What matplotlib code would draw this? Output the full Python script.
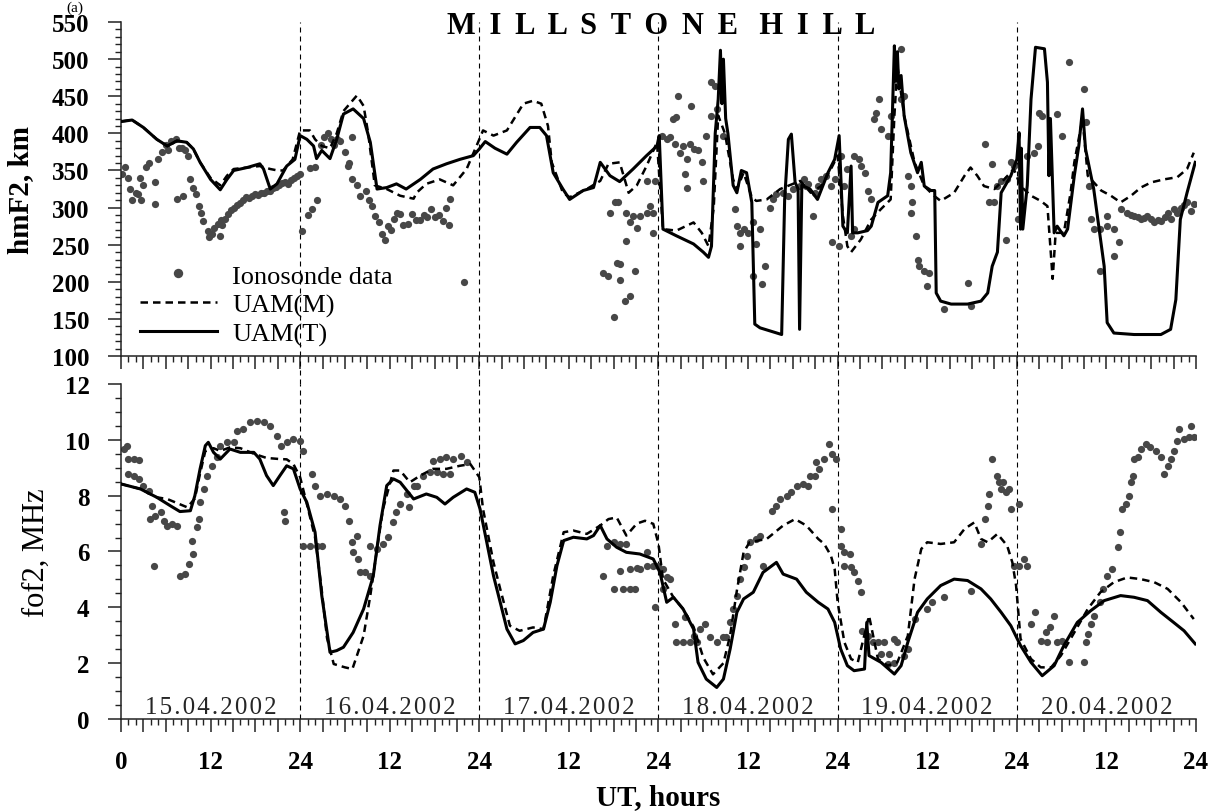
import numpy as np
import matplotlib
matplotlib.use("Agg")
import matplotlib.pyplot as plt
from matplotlib.ticker import MultipleLocator, FuncFormatter

plt.rcParams['font.family'] = ['Liberation Serif', 'DejaVu Serif']

# ---- data (UT hours from 00 UT 15.04.2002) ----
day_labels = ['15.04.2002', '16.04.2002', '17.04.2002',
              '18.04.2002', '19.04.2002', '20.04.2002']
day_bounds = [24, 48, 72, 96, 120]

# hmF2, UAM(T) model
hm_uam_t = [
    (0, 416), (1.5, 418), (3, 408), (4.8, 392), (6.2, 383), (7.5, 390), (8.8, 388),
    (9.7, 379), (10.6, 361), (12, 338), (13.3, 324), (14.2, 338), (15.1, 350),
    (16.9, 354), (18.6, 359), (19.1, 352), (20, 325), (20.9, 332), (22.2, 356),
    (23.3, 365), (24, 397), (24.9, 392), (25.8, 383), (26.2, 366), (26.9, 377),
    (28, 366), (28.9, 392), (29.8, 426), (31.1, 433), (32.5, 420), (33.4, 388),
    (34.3, 325), (35.6, 327), (36.9, 332), (38.2, 325), (40.1, 338), (41.8, 352),
    (43.6, 359), (45.4, 365), (47.2, 370), (48, 379), (48.8, 389), (50.1, 380),
    (51.7, 372), (53, 388), (54.8, 408), (56.1, 408), (57, 397), (57.9, 347),
    (59.2, 325), (60.1, 311), (61.9, 323), (63.3, 327), (64.2, 361), (65.5, 343),
    (66.8, 335), (68.6, 352), (70.4, 370), (71.8, 383), (72.1, 397), (72.6, 271),
    (74.4, 262), (76.7, 251), (78, 240), (78.7, 233), (79.1, 248), (79.6, 400),
    (80, 446), (80.3, 512), (80.5, 440), (80.7, 500), (81, 420), (81.3, 400),
    (82, 330), (82.5, 320), (83.1, 350), (83.8, 347), (84.5, 307), (84.9, 143),
    (85.6, 138), (86.9, 134), (88.5, 129), (88.9, 311), (89.4, 392), (89.8, 399),
    (90.3, 334), (90.7, 325), (90.9, 136), (91.2, 330), (92.3, 325), (93.3, 311),
    (94.7, 347), (95.6, 365), (96.2, 397), (96.7, 275), (97.3, 266), (97.8, 356),
    (98, 266), (98.7, 266), (100, 269), (100.5, 275), (101.4, 307), (102.7, 316),
    (103.1, 347), (103.6, 518), (103.8, 470), (104, 510), (104.2, 460), (104.5, 478),
    (104.9, 424), (105.8, 374), (106.7, 347), (107.2, 361), (107.6, 329), (108.5, 323),
    (109, 323), (109.2, 185), (109.8, 174), (111.2, 170), (113.4, 170), (115.2, 174),
    (116.1, 185), (116.7, 221), (117.4, 240), (117.9, 320), (119.2, 343), (120, 365),
    (120.3, 401), (120.5, 271), (120.6, 380), (120.8, 271), (121.4, 330), (121.9, 446),
    (122.5, 516), (123.7, 514), (124.1, 469), (124.3, 343), (124.5, 420), (125, 266),
    (125.4, 275), (126.3, 262), (126.8, 271), (127.7, 343), (128.3, 383), (128.8, 433),
    (129.2, 379), (130.3, 325), (131.7, 221), (132.1, 145), (133, 131), (135.7, 129),
    (139.3, 129), (140.6, 136), (141.3, 176), (141.9, 284), (142.8, 320), (143.9, 361),
]

# hmF2, UAM(M) model
hm_uam_m = [
    (0, 416), (1.5, 418), (3, 408), (4.8, 392), (6.2, 383), (7.5, 390), (8.8, 388),
    (9.7, 379), (10.6, 361), (12, 340), (13.3, 330), (14.2, 343), (15.1, 352),
    (16.9, 354), (18.6, 356), (20, 352), (21, 350), (21.7, 350), (23, 365), (24, 404),
    (25.3, 404), (26, 392), (26.9, 383), (28, 380), (28.9, 400), (29.8, 430),
    (31.6, 451), (32.5, 437), (33.1, 401), (34, 330), (35.6, 325), (37.4, 316),
    (39.2, 312), (39.6, 320), (40.9, 332), (42.7, 338), (44.5, 330), (46.3, 352),
    (48, 392), (48.5, 404), (49.9, 397), (51.7, 404), (53.9, 440), (55.2, 444),
    (56.3, 440), (57.2, 410), (57.7, 361), (59.2, 320), (60.1, 314), (62.4, 325),
    (64.2, 336), (65.3, 359), (66.8, 361), (68, 320), (69.1, 330), (70.4, 356),
    (71.8, 388), (72.6, 271), (74.4, 269), (76.7, 280), (77.8, 266), (78.7, 248),
    (79.4, 300), (80, 424), (80.9, 400), (82, 338), (82.5, 325), (83.4, 347),
    (84.5, 314), (85.1, 309), (86.5, 311), (88.3, 325), (91, 336), (92.4, 320),
    (93.8, 329), (95.1, 352), (96, 370), (96.7, 289), (97.3, 248), (97.8, 240),
    (99.1, 257), (100.5, 284), (101.8, 298), (103.1, 311), (103.6, 424), (104, 491),
    (104.9, 424), (106.3, 361), (107.6, 329), (108.9, 316), (109.8, 309), (111.6, 320),
    (113, 343), (113.8, 354), (114.7, 343), (115.6, 329), (117, 325), (118.3, 338),
    (119.6, 352), (120.5, 329), (121.9, 316), (123.2, 309), (124.1, 302), (124.8, 204),
    (125.2, 266), (126.3, 266), (127.2, 320), (127.7, 361), (128.8, 420), (129.5, 343),
    (131.3, 323), (132.6, 316), (133.9, 307), (135.3, 316), (136.6, 327), (138, 334),
    (139.7, 338), (141.5, 341), (142.8, 352), (143.7, 374),
]

# hmF2, ionosonde
hm_iono = [
    (0.2, 345), (0.5, 355), (1.0, 340), (1.2, 325), (1.5, 310), (2.0, 320), (2.3, 318),
    (2.5, 340), (2.7, 310), (3.0, 330), (3.4, 355), (3.8, 360), (4.5, 335), (4.5, 305),
    (5.0, 365), (5.5, 375), (6.0, 385), (6.3, 378), (6.7, 390), (7.4, 392), (7.5, 312),
    (7.8, 380), (8.2, 380), (8.3, 316), (8.6, 378), (9.0, 370), (9.2, 338), (9.6, 326),
    (10.0, 318), (10.4, 302), (10.7, 293), (11.0, 282), (11.6, 268), (11.8, 260),
    (12.2, 265), (12.5, 272), (13.0, 278), (13.2, 262), (13.4, 283), (13.6, 277),
    (14.0, 285), (14.4, 292), (14.8, 297), (15.2, 300), (15.6, 303), (16.0, 306),
    (16.4, 310), (16.8, 314), (17.2, 313), (17.6, 315), (18.0, 318), (18.4, 317),
    (18.8, 320), (19.2, 320), (19.6, 323), (20.0, 322), (20.4, 326), (20.8, 328),
    (21.2, 330), (21.6, 333), (22.0, 335), (22.4, 332), (22.8, 337), (23.2, 340),
    (23.6, 342), (24.0, 345),
    (24.3, 268), (25.0, 290), (25.3, 353), (25.6, 298), (26.0, 355), (26.3, 310),
    (26.8, 385), (27.2, 395), (27.7, 400), (28.2, 392), (28.6, 385), (29.0, 392),
    (29.4, 390), (30.0, 375), (30.4, 356), (30.5, 360), (31.0, 395), (31.0, 338),
    (31.6, 330), (32.0, 316), (32.8, 322), (33.2, 310), (33.6, 302), (34.0, 289),
    (34.6, 280), (35.0, 264), (35.4, 257), (35.8, 275), (36.2, 270), (36.6, 285),
    (37.0, 293), (37.4, 292), (37.8, 276), (38.4, 278), (39.0, 291), (39.5, 283),
    (40.0, 283), (40.6, 290), (41.0, 287), (41.5, 298), (42.0, 288), (42.6, 290),
    (43.2, 282), (43.6, 300), (44.0, 276), (44.1, 311), (45.9, 200),
    (64.6, 212), (65.3, 208), (65.5, 293), (66.0, 152), (66.2, 307), (66.4, 226),
    (66.6, 307), (66.8, 224), (66.8, 203), (67.5, 174), (67.7, 293), (67.7, 255),
    (68.2, 280), (68.2, 181), (68.6, 289), (68.8, 215), (69.1, 273), (69.5, 289),
    (70.4, 293), (70.4, 336), (70.9, 302), (71.3, 293), (71.3, 266), (71.5, 336),
    (72.5, 397), (73.1, 392), (73.5, 395), (74.0, 420), (74.2, 386), (74.4, 422),
    (74.6, 451), (74.9, 374), (75.3, 383), (75.6, 345), (75.8, 365), (75.8, 327),
    (76.2, 386), (76.4, 437), (76.7, 379), (77.3, 377), (77.8, 361), (78.0, 336),
    (78.4, 397), (79.1, 469), (79.1, 424), (79.6, 464), (79.8, 433), (80.7, 397),
    (82.2, 298), (82.5, 275), (82.9, 266), (82.9, 248), (83.4, 271), (84.0, 266),
    (84.7, 280), (84.7, 208), (85.1, 251), (85.6, 271), (85.8, 197), (86.3, 221),
    (86.9, 300), (87.4, 311), (87.8, 318), (88.7, 320), (89.4, 316), (90.0, 325),
    (90.9, 329), (91.5, 338), (91.8, 329), (92.0, 332), (92.7, 289), (92.9, 320),
    (93.4, 329), (93.8, 338), (94.4, 343), (95.1, 329), (95.3, 253), (95.6, 338),
    (96.2, 248), (96.4, 370), (96.9, 329), (97.3, 352), (97.8, 262), (98.2, 370),
    (98.2, 271), (98.9, 365), (99.1, 356), (99.6, 347), (100.0, 323), (100.5, 311),
    (100.9, 420), (101.1, 428), (101.6, 446), (101.8, 406), (102.7, 397), (103.1, 424),
    (104.5, 514), (104.5, 446), (104.9, 451), (105.4, 343), (105.8, 329), (105.8, 293),
    (106.0, 307), (106.5, 262), (106.7, 230), (106.9, 221), (107.6, 215), (108.0, 194),
    (108.3, 212), (110.3, 163), (113.4, 199), (113.8, 168), (115.8, 386), (116.3, 307),
    (116.7, 359), (116.9, 307), (117.4, 329), (117.9, 336), (118.5, 257), (118.7, 338),
    (119.2, 361), (119.6, 356),
    (120.1, 284), (121.4, 370), (122.3, 374), (122.8, 383), (123.0, 428), (123.4, 424),
    (125.4, 426), (126.1, 397), (127.0, 496), (129.0, 460), (129.2, 415), (129.7, 329),
    (129.9, 284), (130.3, 271), (131.2, 271), (131.2, 215), (132.1, 275), (132.1, 289),
    (133.0, 271), (133.0, 235), (133.7, 253), (134.0, 298), (134.8, 293), (135.3, 290),
    (135.7, 289), (136.2, 287), (136.6, 284), (137.0, 286), (137.5, 289), (138.0, 284),
    (138.4, 280), (138.9, 283), (139.3, 282), (139.8, 287), (140.2, 293), (140.6, 284),
    (141.1, 298), (141.5, 293), (142.0, 300), (142.4, 303), (142.8, 307), (143.3, 296),
    (143.7, 305),
]

# foF2, UAM(T) model
fo_uam_t = [
    (0, 8.42), (2.6, 8.24), (4.8, 7.94), (6.6, 7.64), (7.9, 7.43), (9.3, 7.46), (9.9, 8.0),
    (10.6, 8.96), (11.3, 9.79), (11.7, 9.91), (12.4, 9.55), (13.3, 9.31), (14.6, 9.67),
    (16.0, 9.55), (17.8, 9.55), (18.6, 9.31), (19.5, 8.72), (20.4, 8.36), (21.3, 8.72),
    (22.2, 9.07), (23.1, 8.96), (24.0, 8.24), (24.9, 7.76), (26.0, 6.69), (26.9, 4.42),
    (28.0, 2.39), (28.9, 2.45), (29.8, 2.57), (31.1, 3.10), (32.5, 3.94), (33.8, 5.13),
    (34.7, 6.93), (35.6, 8.36), (36.5, 8.6), (37.4, 8.48), (38.3, 8.18), (39.2, 7.88),
    (40.9, 8.06), (42.3, 7.94), (43.4, 7.7), (44.5, 7.94), (46.3, 8.24), (47.4, 8.12),
    (48.1, 7.52), (49.0, 6.33), (49.9, 5.13), (50.8, 4.18), (51.7, 3.22), (52.8, 2.69),
    (53.9, 2.81), (55.2, 3.1), (56.6, 3.22), (57.5, 4.18), (58.4, 5.49), (59.3, 6.39),
    (60.6, 6.51), (62.4, 6.45), (63.3, 6.57), (64.2, 6.93), (65.1, 6.45), (66.4, 6.15),
    (67.7, 5.97), (69.5, 5.91), (71.3, 5.73), (72.2, 5.25), (73.1, 4.18), (74.0, 4.36),
    (75.3, 3.94), (76.7, 3.22), (77.3, 2.03), (78.4, 1.43), (79.8, 1.13), (80.7, 1.43),
    (81.6, 2.51), (82.5, 3.82), (83.4, 4.3), (84.7, 4.54), (86.0, 5.25), (87.8, 5.61),
    (88.7, 5.19), (90.5, 5.01), (91.8, 4.54), (93.4, 4.18), (94.7, 3.94), (95.6, 3.46),
    (96.4, 2.51), (97.3, 1.91), (98.2, 1.73), (99.6, 1.79), (99.9, 3.46), (100.2, 2.27),
    (101.8, 2.03), (103.6, 1.61), (104.5, 1.91), (105.4, 2.75), (106.7, 3.82), (108.0, 4.3),
    (109.8, 4.78), (111.6, 5.01), (113.4, 4.96), (115.2, 4.66), (116.5, 4.3), (117.9, 3.82),
    (119.2, 3.34), (120.5, 2.63), (121.9, 2.03), (123.4, 1.55), (125.0, 1.91), (126.3, 2.63),
    (128.1, 3.46), (129.9, 3.88), (131.7, 4.24), (133.9, 4.42), (135.7, 4.36), (137.5, 4.24),
    (139.3, 3.82), (141.0, 3.46), (142.4, 3.16), (143.9, 2.69),
]

# foF2, UAM(M) model
fo_uam_m = [
    (0, 8.42), (2.6, 8.24), (4.8, 7.94), (6.2, 7.88), (8.9, 7.58), (9.9, 7.9), (10.6, 8.8),
    (11.3, 9.6), (12.4, 9.7), (13.3, 9.6), (14.6, 9.73), (16.0, 9.7), (17.8, 9.5),
    (19.5, 9.35), (21.3, 9.31), (22.2, 9.3), (23.1, 9.13), (24.0, 8.66), (24.9, 7.7),
    (26.0, 6.5), (26.9, 4.6), (27.6, 2.9), (28.5, 1.97), (30.0, 1.85), (31.0, 1.79),
    (32.5, 2.98), (33.4, 4.42), (34.3, 6.09), (35.1, 7.52), (36.5, 8.9), (37.4, 8.9),
    (38.7, 8.48), (40.1, 8.72), (41.8, 8.96), (43.6, 8.96), (45.4, 9.07), (46.8, 9.13),
    (48.0, 8.66), (48.5, 7.52), (49.9, 5.61), (50.8, 4.66), (52.1, 3.34), (53.4, 3.16),
    (55.2, 3.28), (56.6, 3.22), (57.9, 5.13), (59.3, 6.69), (60.6, 6.75), (62.4, 6.63),
    (64.2, 6.93), (65.3, 7.16), (66.4, 7.22), (67.7, 6.57), (69.1, 7.0), (70.2, 7.1),
    (71.3, 6.99), (72.0, 6.27), (72.6, 5.01), (74.0, 4.36), (75.3, 3.94), (76.7, 3.3),
    (78.0, 2.2), (79.3, 1.6), (80.7, 2.0), (81.6, 3.0), (82.5, 4.6), (83.4, 5.97),
    (84.2, 6.33), (86.5, 6.45), (88.7, 6.93), (90.3, 7.16), (91.8, 6.93), (93.4, 6.45),
    (94.2, 6.27), (95.1, 5.85), (95.6, 5.37), (96.0, 4.18), (96.9, 2.75), (97.8, 2.15),
    (98.7, 2.03), (100.2, 3.7), (101.4, 2.15), (102.7, 1.91), (104.0, 2.03), (105.4, 2.98),
    (106.3, 5.01), (107.2, 6.09), (108.0, 6.33), (109.8, 6.27), (111.6, 6.33), (113.0, 6.81),
    (114.3, 7.04), (115.2, 6.45), (116.1, 6.33), (117.4, 6.63), (118.7, 6.21), (119.4, 5.61),
    (119.9, 4.78), (120.5, 2.87), (121.9, 2.15), (123.2, 1.85), (124.6, 1.85), (125.9, 2.27),
    (127.7, 3.1), (129.5, 3.94), (131.2, 4.54), (133.0, 4.9), (134.8, 5.07), (136.6, 5.01),
    (138.4, 4.9), (140.2, 4.66), (142.0, 4.18), (143.7, 3.58),
]

# foF2, ionosonde
fo_iono = [
    (0.4, 9.67), (0.8, 9.79), (1.0, 9.31), (1.0, 8.78), (1.7, 9.31), (1.7, 8.72), (2.4, 9.29),
    (2.4, 8.6), (3.0, 8.36), (3.7, 8.18), (3.9, 7.16), (4.1, 7.64), (4.4, 5.49), (4.6, 7.28),
    (5.3, 7.4), (5.7, 7.1), (6.2, 6.93), (6.8, 6.99), (7.5, 6.93), (7.9, 5.13), (8.6, 5.19),
    (9.1, 5.55), (9.5, 6.39), (9.7, 5.91), (10.2, 6.87), (10.4, 7.16), (10.6, 7.76),
    (11.1, 8.24), (11.5, 8.72), (12.2, 9.07), (12.8, 9.37), (13.3, 9.79), (14.2, 9.91),
    (15.1, 9.91), (15.5, 10.33), (16.4, 10.39), (17.3, 10.63), (18.2, 10.69), (19.1, 10.63),
    (20.0, 10.51), (20.9, 10.15), (21.5, 9.79), (21.8, 7.4), (22.0, 7.1), (22.2, 9.91),
    (23.1, 10.03), (24.0, 9.97), (24.4, 9.61),
    (24.4, 6.21), (25.3, 6.21), (25.6, 8.78), (26.0, 8.36), (26.2, 6.21), (26.7, 8.0),
    (26.9, 6.21), (27.6, 8.06), (28.5, 8.0), (29.3, 7.88), (30.0, 7.64), (30.5, 7.1),
    (30.9, 6.33), (31.1, 5.97), (31.6, 6.57), (31.8, 5.73), (32.0, 5.25), (32.7, 5.25),
    (33.4, 5.13), (33.4, 6.21), (34.3, 6.09), (35.1, 6.27), (35.8, 6.51), (36.5, 7.04),
    (36.9, 7.4), (37.4, 7.7), (38.3, 8.06), (38.6, 7.6), (39.2, 8.36), (39.6, 8.36),
    (40.5, 8.72), (41.4, 8.84), (41.8, 9.25), (42.3, 8.84), (42.7, 9.31), (43.2, 8.78),
    (43.6, 9.37), (44.1, 8.78), (44.5, 9.31), (45.6, 9.43), (46.3, 9.2),
    (64.6, 5.13), (65.1, 6.21), (66.0, 6.33), (66.0, 4.66), (66.8, 6.27), (66.8, 5.31),
    (67.3, 4.66), (67.7, 6.27), (68.2, 4.66), (68.2, 5.37), (68.8, 4.66), (69.1, 5.4),
    (69.5, 5.37), (70.4, 5.49), (70.4, 5.97), (71.3, 5.49), (71.5, 4.0), (72.0, 5.49),
    (72.6, 5.37), (72.6, 4.66), (73.1, 5.07), (73.5, 5.0),
    (74.2, 3.4), (74.4, 2.75), (75.3, 2.75), (75.6, 3.64), (76.2, 2.75), (76.7, 2.98),
    (77.1, 2.75), (77.6, 3.22), (78.2, 3.4), (78.9, 2.93), (79.8, 2.75), (80.7, 2.93),
    (81.1, 2.93), (81.6, 3.46), (82.0, 3.94), (82.5, 4.42), (82.9, 5.01), (83.4, 5.43),
    (83.8, 5.85), (84.2, 6.33), (85.1, 6.45), (85.6, 6.57), (86.0, 5.49), (87.2, 7.46),
    (87.8, 7.64), (88.3, 7.88), (89.2, 8.0), (89.8, 8.12), (90.5, 8.36), (91.4, 8.42),
    (92.0, 8.36), (92.3, 8.72), (92.9, 8.72), (93.1, 9.19), (93.5, 8.96), (94.2, 9.31),
    (94.9, 9.85), (95.3, 9.49), (95.3, 7.52), (95.8, 9.31),
    (96.4, 6.81), (96.4, 6.21), (96.9, 5.97), (96.9, 5.49), (97.6, 5.91), (97.8, 5.43),
    (98.2, 5.25), (98.7, 4.96), (99.1, 4.54), (99.3, 3.16), (100.0, 2.98), (100.7, 2.75),
    (101.4, 2.75), (101.8, 2.33), (102.2, 2.75), (102.7, 1.97), (102.9, 2.33), (103.6, 2.87),
    (103.6, 1.99), (104.0, 2.75), (104.9, 2.27), (105.4, 2.5), (106.3, 3.58), (108.0, 3.94),
    (108.7, 4.18), (110.3, 4.36), (113.8, 4.6), (115.2, 6.27), (115.8, 7.16), (116.1, 7.64),
    (116.3, 8.06), (116.7, 9.31), (117.4, 8.72), (117.6, 8.48), (117.9, 8.24), (118.1, 8.48),
    (118.5, 8.12), (118.9, 8.24), (119.2, 7.52), (119.6, 5.49), (120.3, 7.7), (120.3, 5.49),
    (121.0, 5.73), (121.4, 5.49),
    (121.9, 3.4), (122.5, 3.82), (123.2, 2.81), (123.9, 3.1), (124.1, 2.75), (124.5, 3.28),
    (125.0, 3.7), (125.4, 2.75), (126.1, 2.81), (127.0, 2.03), (129.0, 2.03), (129.2, 2.75),
    (129.5, 3.04), (129.9, 3.4), (130.3, 3.7), (131.2, 4.18), (131.5, 4.66), (132.1, 5.13),
    (132.8, 5.37), (133.5, 6.15), (133.8, 6.69), (134.1, 7.52), (134.6, 7.7), (135.0, 8.0),
    (135.3, 8.48), (135.5, 8.72), (135.7, 9.31), (136.2, 9.37), (136.6, 9.67), (137.3, 9.85),
    (137.9, 9.73), (138.6, 9.61), (139.3, 9.37), (139.7, 8.78), (140.2, 9.07), (140.6, 9.31),
    (141.0, 9.61), (141.5, 9.97), (141.7, 10.39), (142.4, 10.03), (143.0, 10.09),
    (143.3, 10.51), (143.7, 10.09),
]


def xy(pairs):
    a = np.array(pairs, dtype=float)
    return a[:, 0], a[:, 1]


def hour_label(h, pos):
    h = int(round(h))
    if h % 12:
        return ''
    if h == 0:
        return '0'
    return '24' if h % 24 == 0 else '12'


def style(ax, ymaj, ymin):
    for s in ['top', 'right']:
        ax.spines[s].set_visible(False)
    for s in ['left', 'bottom']:
        ax.spines[s].set_linewidth(1.1)
        ax.spines[s].set_color('#222222')
    ax.set_xlim(0, 144)
    ax.xaxis.set_major_locator(MultipleLocator(3))
    ax.xaxis.set_minor_locator(MultipleLocator(1))
    ax.yaxis.set_major_locator(MultipleLocator(ymaj))
    ax.yaxis.set_minor_locator(MultipleLocator(ymin))
    ax.tick_params(which='major', direction='out', length=9.5, width=1.1,
                   color='#222222', labelsize=18, pad=13)
    ax.tick_params(which='minor', direction='out', length=4.5, width=1.0,
                   color='#222222')
    for lab in ax.get_yticklabels():
        lab.set_fontweight('bold')
    for d in day_bounds:
        ax.axvline(d, color='black', lw=0.8, dashes=(4.5, 3.6), zorder=1)


fig = plt.figure(figsize=(12.12, 8.12), dpi=100)
ax1 = fig.add_axes([0.0998, 0.5603, 0.8870, 0.4113])
ax2 = fig.add_axes([0.0998, 0.1133, 0.8870, 0.4126])

dot_kw = dict(ls='none', marker='o', ms=5.2, mec='none', color='#474747', zorder=2)
m_kw = dict(color='black', lw=1.8, dashes=(3, 2), zorder=3)
t_kw = dict(color='black', lw=2.2, zorder=4)

# top panel: hmF2
h, v = xy(hm_iono)
p_dots, = ax1.plot(h, v, label='Ionosonde data', **dot_kw)
h, v = xy(hm_uam_m)
p_m, = ax1.plot(h, v, label='UAM(M)', **m_kw)
h, v = xy(hm_uam_t)
p_t, = ax1.plot(h, v, label='UAM(T)', **t_kw)
ax1.set_ylim(100, 550)
style(ax1, 50, 10)
ax1.xaxis.set_major_formatter(FuncFormatter(lambda x, p: ''))
ax1.set_ylabel('hmF2, km', fontsize=21, fontweight='bold')
ax1.yaxis.set_label_coords(-0.081, 0.5)
leg = ax1.legend(handles=[p_dots, p_m, p_t], loc='lower left',
                 bbox_to_anchor=(0.0177, 0.03), frameon=False, fontsize=19,
                 handlelength=2.9, handletextpad=0.6, labelspacing=0.2,
                 borderpad=0, borderaxespad=0, markerscale=1.3)

# bottom panel: foF2
h, v = xy(fo_iono)
ax2.plot(h, v, **dot_kw)
h, v = xy(fo_uam_m)
ax2.plot(h, v, **m_kw)
h, v = xy(fo_uam_t)
ax2.plot(h, v, **t_kw)
ax2.set_ylim(0, 12)
style(ax2, 2, 0.5)
ax2.xaxis.set_major_formatter(FuncFormatter(hour_label))
for lab in ax2.get_xticklabels():
    lab.set_fontweight('bold')
ax2.set_ylabel('fof2, MHz', fontsize=22)
ax2.yaxis.set_label_coords(-0.065, 0.5)
ax2.set_xlabel('UT, hours', fontsize=21, fontweight='bold')
ax2.xaxis.set_label_coords(0.5, -0.19)
ax2.xaxis.label.set_va('top')

# dashed day separators continue through the gap between panels
for d in day_bounds:
    ax2.axvline(d, ymin=1.0, ymax=1.084, color='black', lw=0.8,
                dashes=(4.5, 3.6), clip_on=False)

for i, lab in enumerate(day_labels):
    ax2.text(24 * i + 12, 0.22, '\u200a'.join(lab), ha='center', va='baseline',
             fontsize=18, color='#262626')

title = ' \u2009'.join('MILLSTONE') + '  \u2009' + ' \u2009'.join('HILL')
fig.text(0.5458, 0.958, title, ha='center', va='baseline', fontsize=22,
         fontweight='bold')
fig.text(0.062, 0.998, '(a)', ha='center', va='top', fontsize=11)

fig.savefig('out.png', dpi=100)
